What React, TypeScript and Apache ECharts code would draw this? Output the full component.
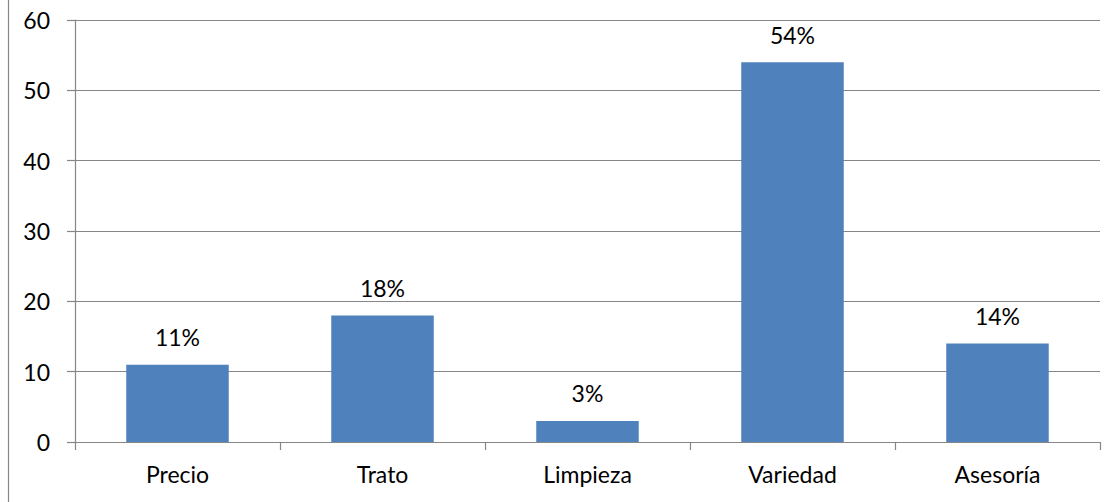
import React, { useEffect, useRef } from "react";
import * as echarts from "echarts";

const categories = ["Precio", "Trato", "Limpieza", "Variedad", "Asesoría"];
const values = [11, 18, 3, 54, 14];
const valueLabels = ["11%", "18%", "3%", "54%", "14%"];

const FONT = "Lato, 'Noto Sans', sans-serif";
const GRAY = "#868686";

export default function App() {
  const ref = useRef<HTMLDivElement>(null);
  useEffect(() => {
    if (!ref.current) return;
    const chart = echarts.init(ref.current, null, { renderer: "svg" });
    chart.setOption({
      animation: false,
      backgroundColor: "#ffffff",
      textStyle: { fontFamily: FONT },
      grid: { left: 75, right: 20, top: 20, bottom: 60, containLabel: false },
      graphic: [
        {
          type: "line",
          shape: { x1: 8.5, y1: 0, x2: 8.5, y2: 502 },
          style: { stroke: GRAY, lineWidth: 1.2 },
        },
      ],
      xAxis: {
        type: "category",
        data: categories,
        boundaryGap: true,
        axisLine: { show: true, lineStyle: { color: GRAY, width: 1.2 } },
        axisTick: { show: true, length: 8, alignWithLabel: false, lineStyle: { color: GRAY, width: 1.2 } },
        axisLabel: { color: "#000", fontSize: 23, fontFamily: FONT, margin: 20 },
        splitLine: { show: false },
      },
      yAxis: {
        type: "value",
        min: 0,
        max: 60,
        interval: 10,
        axisLine: { show: true, lineStyle: { color: GRAY, width: 1.2 } },
        axisTick: { show: true, length: 8, lineStyle: { color: GRAY, width: 1.2 } },
        axisLabel: { color: "#000", fontSize: 23, fontFamily: FONT, margin: 25 },
        splitLine: { show: true, lineStyle: { color: GRAY, width: 1.2 } },
      },
      series: [
        {
          type: "bar",
          data: values,
          barWidth: "50%",
          itemStyle: { color: "#4F81BD" },
          label: {
            show: true,
            position: "top",
            distance: 16,
            color: "#000",
            fontSize: 23,
            fontFamily: FONT,
            formatter: (p: any) => valueLabels[p.dataIndex],
          },
        },
      ],
    });
    return () => chart.dispose();
  }, []);
  return <div ref={ref} style={{ width: 1120, height: 502, position: "fixed", left: 0, top: 0 }} />;
}
